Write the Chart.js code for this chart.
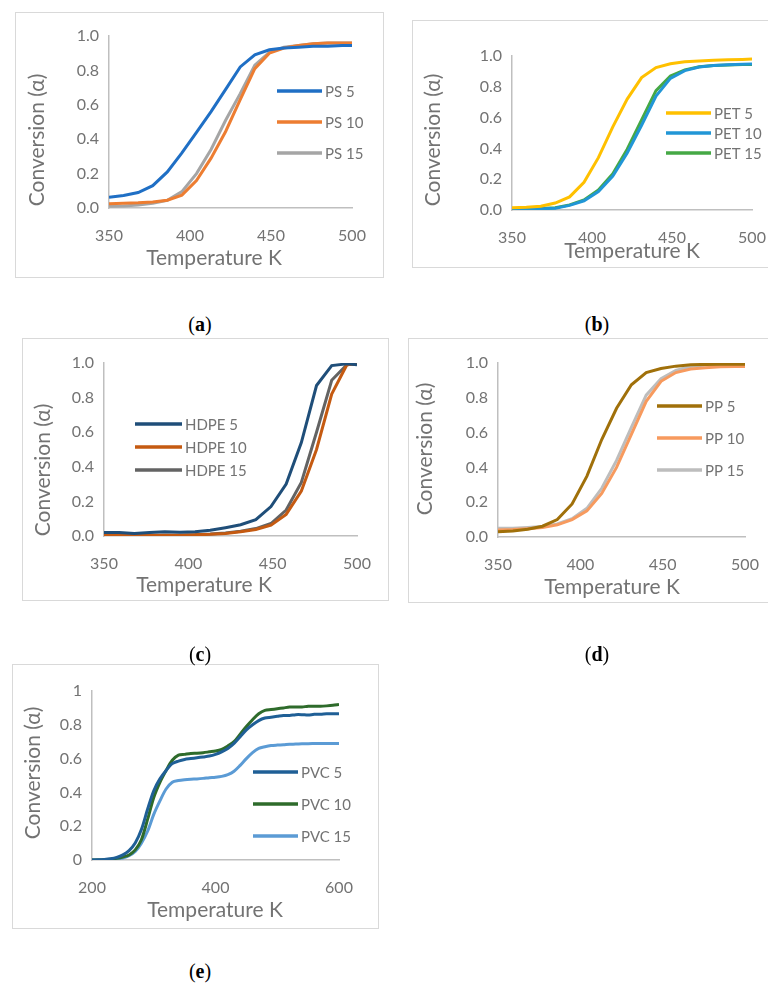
<!DOCTYPE html>
<html lang="en">
<head>
  <meta charset="UTF-8">
  <title>Conversion vs Temperature</title>
  <script src="https://cdn.jsdelivr.net/npm/chart.js"></script>
  <style>
    body {
      margin: 0;
      width: 768px;
      height: 989px;
      overflow: hidden;
      background: #ffffff;
      position: relative;
    }
    .panel {
      position: absolute;
      border: 1px solid #d9d9d9;
      background: #ffffff;
    }
    .panel canvas {
      position: absolute;
      left: 0;
      top: 0;
    }
    .caption {
      position: absolute;
      width: 60px;
      margin-left: -30px;
      text-align: center;
      font-family: "Liberation Serif", serif;
      font-size: 20px;
      color: #000;
      line-height: 22px;
    }
  </style>
</head>
<body>

  <div class="panel" id="boxA"><canvas id="chartA"></canvas></div>
  <div class="panel" id="boxB"><canvas id="chartB"></canvas></div>
  <div class="panel" id="boxC"><canvas id="chartC"></canvas></div>
  <div class="panel" id="boxD"><canvas id="chartD"></canvas></div>
  <div class="panel" id="boxE"><canvas id="chartE"></canvas></div>

  <div class="caption" style="left:200px; top:313px">(<b>a</b>)</div>
  <div class="caption" style="left:597px; top:313px">(<b>b</b>)</div>
  <div class="caption" style="left:200px; top:643px">(<b>c</b>)</div>
  <div class="caption" style="left:597px; top:643px">(<b>d</b>)</div>
  <div class="caption" style="left:200px; top:960px">(<b>e</b>)</div>

<script>
  // temperatures (K) for panels a-d
  const tempAD = [350, 359, 368, 377, 386, 395, 404, 413, 422, 431, 440, 449, 458, 467, 476, 485, 494, 500];

  // (a) PS
  const ps5  = [0.062, 0.073, 0.09, 0.13, 0.21, 0.32, 0.44, 0.56, 0.69, 0.82, 0.89, 0.92, 0.93, 0.935, 0.94, 0.94, 0.945, 0.945];
  const ps10 = [0.025, 0.027, 0.03, 0.035, 0.045, 0.075, 0.16, 0.29, 0.445, 0.63, 0.81, 0.90, 0.93, 0.945, 0.955, 0.96, 0.96, 0.96];
  const ps15 = [0.01, 0.012, 0.018, 0.028, 0.045, 0.095, 0.20, 0.34, 0.51, 0.665, 0.83, 0.905, 0.935, 0.945, 0.955, 0.96, 0.96, 0.96];

  // (b) PET
  const pet5  = [0.015, 0.018, 0.025, 0.045, 0.085, 0.18, 0.34, 0.54, 0.72, 0.86, 0.925, 0.95, 0.962, 0.968, 0.973, 0.976, 0.978, 0.98];
  const pet10 = [0.005, 0.006, 0.008, 0.012, 0.03, 0.06, 0.12, 0.22, 0.37, 0.55, 0.74, 0.855, 0.905, 0.928, 0.938, 0.943, 0.946, 0.948];
  const pet15 = [0.008, 0.009, 0.01, 0.015, 0.033, 0.065, 0.13, 0.235, 0.395, 0.585, 0.775, 0.87, 0.91, 0.93, 0.938, 0.942, 0.944, 0.945];

  // (c) HDPE
  const hdpe5  = [0.02, 0.02, 0.015, 0.02, 0.025, 0.022, 0.025, 0.033, 0.048, 0.065, 0.095, 0.17, 0.30, 0.54, 0.87, 0.985, 0.995, 0.99];
  const hdpe10 = [0.005, 0.005, 0.005, 0.005, 0.005, 0.005, 0.007, 0.01, 0.015, 0.024, 0.038, 0.063, 0.125, 0.26, 0.50, 0.82, 0.99, 0.995];
  const hdpe15 = [0.003, 0.003, 0.003, 0.003, 0.004, 0.005, 0.007, 0.011, 0.017, 0.027, 0.043, 0.072, 0.15, 0.31, 0.60, 0.90, 0.99, 0.995];

  // (d) PP
  const pp5  = [0.03, 0.035, 0.045, 0.062, 0.10, 0.19, 0.35, 0.56, 0.74, 0.875, 0.945, 0.968, 0.982, 0.99, 0.992, 0.993, 0.993, 0.993];
  const pp10 = [0.04, 0.043, 0.048, 0.054, 0.07, 0.10, 0.15, 0.25, 0.40, 0.59, 0.78, 0.895, 0.945, 0.965, 0.973, 0.978, 0.98, 0.98];
  const pp15 = [0.05, 0.051, 0.055, 0.06, 0.075, 0.105, 0.165, 0.28, 0.44, 0.63, 0.815, 0.91, 0.958, 0.98, 0.988, 0.99, 0.99, 0.99];

  // (e) PVC, temperatures 200..600 K
  const tempE = [200, 210, 220, 230, 240, 250, 260, 270, 280, 290, 300, 310, 320, 330, 340, 350, 360, 370, 380, 390, 400,
                 410, 420, 430, 440, 450, 460, 470, 480, 490, 500, 510, 520, 530, 540, 550, 560, 570, 580, 590, 600];
  const pvc5  = [0, 0.001, 0.003, 0.007, 0.015, 0.03, 0.055, 0.10, 0.18, 0.30, 0.41, 0.48, 0.53, 0.57, 0.585, 0.595, 0.60, 0.605, 0.61, 0.615, 0.625,
                 0.64, 0.66, 0.69, 0.73, 0.77, 0.80, 0.825, 0.84, 0.845, 0.85, 0.855, 0.855, 0.86, 0.86, 0.858, 0.862, 0.862, 0.865, 0.865, 0.866];
  const pvc10 = [0, 0, 0.002, 0.005, 0.01, 0.018, 0.03, 0.06, 0.12, 0.24, 0.37, 0.46, 0.53, 0.59, 0.62, 0.625, 0.63, 0.632, 0.635, 0.64, 0.645,
                 0.655, 0.675, 0.70, 0.745, 0.79, 0.83, 0.865, 0.885, 0.89, 0.895, 0.90, 0.905, 0.905, 0.905, 0.91, 0.91, 0.91, 0.912, 0.915, 0.92];
  const pvc15 = [0, 0, 0.001, 0.003, 0.006, 0.012, 0.025, 0.05, 0.10, 0.17, 0.27, 0.35, 0.42, 0.46, 0.47, 0.475, 0.478, 0.48, 0.483, 0.487, 0.49,
                 0.495, 0.505, 0.525, 0.56, 0.60, 0.635, 0.66, 0.67, 0.677, 0.68, 0.682, 0.685, 0.686, 0.688, 0.688, 0.689, 0.69, 0.69, 0.69, 0.69];

  const xTicksAD = [350, 400, 450, 500];
  const xTicksE = [200, 400, 600];

  const textColor = '#737373';
  const fontFamily = 'Lato, "Open Sans", sans-serif';

  function pts(xs, ys) {
    return xs.map((x, i) => ({ x: x, y: ys[i] }));
  }

  // draws axis titles and the in-plot legend at fixed spots
  const panelText = {
    id: 'panelText',
    afterDraw(chart, args, o) {
      const ctx = chart.ctx;
      ctx.save();
      ctx.fillStyle = textColor;
      ctx.textAlign = 'center';
      ctx.textBaseline = 'middle';
      ctx.font = '21px ' + fontFamily;
      ctx.fillText('Temperature K', o.xTitle[0], o.xTitle[1]);
      ctx.save();
      ctx.translate(o.yTitle[0], o.yTitle[1]);
      ctx.rotate(-Math.PI / 2);
      ctx.fillText('Conversion (α)', 0, 0);
      ctx.restore();

      ctx.font = '15px ' + fontFamily;
      ctx.textAlign = 'left';
      chart.data.datasets.forEach((ds, i) => {
        const y = o.legend.y + i * o.legend.gap;
        ctx.strokeStyle = ds.borderColor;
        ctx.lineWidth = 3.5;
        ctx.beginPath();
        ctx.moveTo(o.legend.x0, y);
        ctx.lineTo(o.legend.x1, y);
        ctx.stroke();
        ctx.fillText(ds.label, o.legend.x1 + 3, y + 1);
      });
      ctx.restore();
    }
  };

  function makePanel(p) {
    const [bx, by, bw, bh] = p.box;
    const box = document.getElementById(p.boxId);
    box.style.left = bx + 'px';
    box.style.top = by + 'px';
    box.style.width = bw + 'px';
    box.style.height = bh + 'px';
    const cv = document.getElementById(p.canvasId);
    cv.width = bw;
    cv.height = bh;
    const ox = bx + 1, oy = by + 1;

    const yWidth = p.plot.l - ox;
    const xHeight = (oy + bh) - p.plot.b;

    new Chart(cv, {
      type: 'line',
      data: {
        datasets: p.series.map(s => ({
          label: s.label,
          data: pts(p.temps, s.values),
          borderColor: s.color,
          borderWidth: 3,
          pointRadius: 0,
          tension: p.tension,
          fill: false
        }))
      },
      options: {
        responsive: false,
        animation: false,
        layout: {
          padding: { left: 0, bottom: 0, top: p.plot.t - oy, right: (ox + bw) - p.plot.r }
        },
        plugins: {
          legend: { display: false },
          tooltip: { enabled: false },
          panelText: {
            xTitle: [p.xTitle[0] - ox, p.xTitle[1] - oy],
            yTitle: [p.yTitle[0] - ox, p.yTitle[1] - oy],
            legend: { x0: p.legend.x0 - ox, x1: p.legend.x1 - ox, y: p.legend.y - oy, gap: p.legend.gap }
          }
        },
        scales: {
          x: {
            type: 'linear',
            min: p.xTicks[0],
            max: p.xTicks[p.xTicks.length - 1],
            afterBuildTicks: s => { s.ticks = p.xTicks.map(v => ({ value: v })); },
            afterFit: s => { s.height = xHeight; s.paddingLeft = 0; s.paddingRight = 0; },
            grid: { display: true, color: 'rgba(0,0,0,0)', drawTicks: false },
            border: { color: '#bfbfbf', width: 1.5 },
            ticks: { color: textColor, padding: 18, font: { family: fontFamily, size: 16 } }
          },
          y: {
            min: 0,
            max: 1,
            ticks: {
              stepSize: 0.2,
              color: textColor,
              padding: 10,
              font: { family: fontFamily, size: 16 },
              callback: v => p.oneDecimal ? v.toFixed(1) : String(+v.toFixed(1))
            },
            afterFit: s => { s.width = yWidth; s.paddingTop = 0; s.paddingBottom = 0; },
            grid: { display: true, color: 'rgba(0,0,0,0)', drawTicks: false },
            border: { color: '#bfbfbf', width: 1.5 }
          }
        }
      },
      plugins: [panelText]
    });
  }

  const panels = [
    {
      boxId: 'boxA', canvasId: 'chartA', box: [15, 12, 367, 264],
      plot: { l: 109, t: 36, r: 352, b: 208 },
      xTitle: [214, 258], yTitle: [37, 140],
      legend: { x0: 277, x1: 322, y: 91, gap: 31 },
      temps: tempAD, xTicks: xTicksAD, oneDecimal: true, tension: 0,
      series: [
        { label: 'PS 5', values: ps5, color: '#1f6fc5' },
        { label: 'PS 10', values: ps10, color: '#ed7d31' },
        { label: 'PS 15', values: ps15, color: '#a5a5a5' }
      ]
    },
    {
      boxId: 'boxB', canvasId: 'chartB', box: [412, 20, 370, 246],
      plot: { l: 512, t: 56, r: 752, b: 210 },
      xTitle: [632, 251], yTitle: [433, 140],
      legend: { x0: 666, x1: 711, y: 113, gap: 20 },
      temps: tempAD, xTicks: xTicksAD, oneDecimal: true, tension: 0,
      series: [
        { label: 'PET 5', values: pet5, color: '#ffc000' },
        { label: 'PET 10', values: pet10, color: '#2196d6' },
        { label: 'PET 15', values: pet15, color: '#45a845' }
      ]
    },
    {
      boxId: 'boxC', canvasId: 'chartC', box: [22, 338, 365, 261],
      plot: { l: 104, t: 363, r: 357, b: 536 },
      xTitle: [204, 585], yTitle: [43, 470],
      legend: { x0: 135, x1: 182, y: 424, gap: 23 },
      temps: tempAD, xTicks: xTicksAD, oneDecimal: true, tension: 0,
      series: [
        { label: 'HDPE 5', values: hdpe5, color: '#1f4e79' },
        { label: 'HDPE 10', values: hdpe10, color: '#c55a11' },
        { label: 'HDPE 15', values: hdpe15, color: '#636363' }
      ]
    },
    {
      boxId: 'boxD', canvasId: 'chartD', box: [408, 338, 370, 263],
      plot: { l: 498, t: 363, r: 745, b: 537 },
      xTitle: [612, 587], yTitle: [425, 449],
      legend: { x0: 657, x1: 702, y: 406, gap: 32 },
      temps: tempAD, xTicks: xTicksAD, oneDecimal: true, tension: 0,
      series: [
        { label: 'PP 5', values: pp5, color: '#a0700a' },
        { label: 'PP 10', values: pp10, color: '#f79a5e' },
        { label: 'PP 15', values: pp15, color: '#bdbdbd' }
      ]
    },
    {
      boxId: 'boxE', canvasId: 'chartE', box: [12, 664, 365, 263],
      plot: { l: 92, t: 691, r: 339, b: 860 },
      xTitle: [215, 910], yTitle: [33, 773],
      legend: { x0: 253, x1: 298, y: 772, gap: 32 },
      temps: tempE, xTicks: xTicksE, oneDecimal: false, tension: 0.3,
      series: [
        { label: 'PVC 5', values: pvc5, color: '#1f5f96' },
        { label: 'PVC 10', values: pvc10, color: '#2e6b2b' },
        { label: 'PVC 15', values: pvc15, color: '#5b9bd5' }
      ]
    }
  ];

  panels.forEach(makePanel);
</script>

</body>
</html>
